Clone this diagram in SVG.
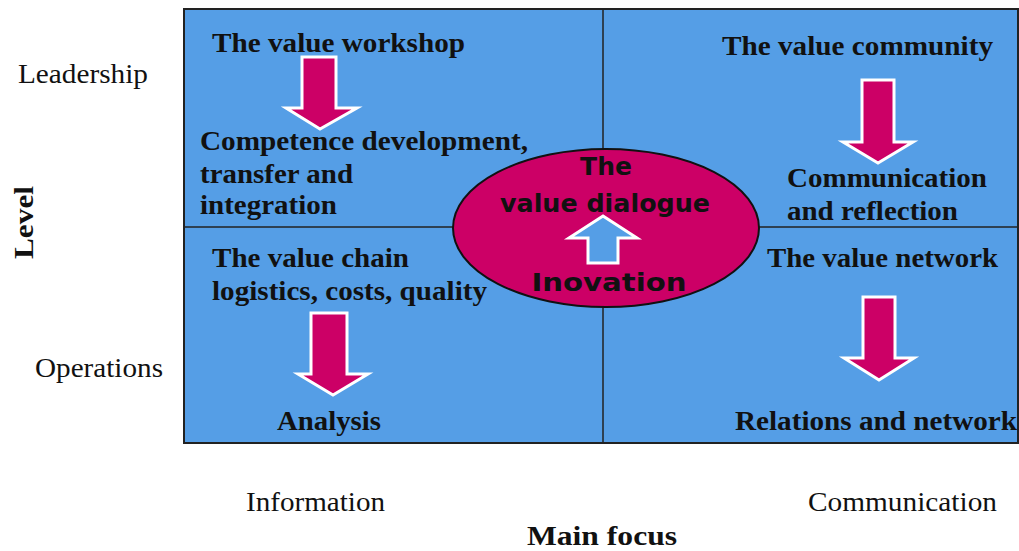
<svg xmlns="http://www.w3.org/2000/svg" width="1019" height="551" viewBox="0 0 1019 551">
<style>
.q{font-family:"Liberation Serif","Times New Roman",serif;font-weight:bold;font-size:27px;fill:#111}
.lab{font-family:"Liberation Serif","Times New Roman",serif;font-size:27px;fill:#111}
.labb{font-family:"Liberation Serif","Times New Roman",serif;font-weight:bold;font-size:28px;fill:#111}
.e{font-family:"DejaVu Sans","Verdana",sans-serif;font-weight:bold;font-size:25px;fill:#111;text-anchor:middle}
.down{fill:#cc0066;stroke:#ffffff;stroke-width:3;stroke-linejoin:miter}
.up{fill:#559ee6;stroke:#ffffff;stroke-width:3}
</style>
<rect width="1019" height="551" fill="#ffffff"/>
<g id="grid">
<rect x="184" y="9" width="834" height="434" fill="#559ee6" stroke="#222" stroke-width="2"/>
<line x1="603" y1="9" x2="603" y2="443" stroke="#222" stroke-width="1.5"/>
<line x1="184" y1="227" x2="1018" y2="227" stroke="#222" stroke-width="1.5"/>
</g>
<g id="axis-labels">
<text class="lab" x="18" y="83" textLength="130" lengthAdjust="spacingAndGlyphs">Leadership</text>
<text class="lab" x="35" y="377" textLength="128" lengthAdjust="spacingAndGlyphs">Operations</text>
<text class="labb" transform="translate(33,259) rotate(-90)" textLength="73" lengthAdjust="spacingAndGlyphs">Level</text>
<text class="lab" x="246" y="511" textLength="139" lengthAdjust="spacingAndGlyphs">Information</text>
<text class="lab" x="808" y="511" textLength="189" lengthAdjust="spacingAndGlyphs">Communication</text>
<text class="labb" x="527" y="545" textLength="150" lengthAdjust="spacingAndGlyphs">Main focus</text>
</g>
<g id="q-workshop">
<text class="q" x="212" y="52" textLength="253" lengthAdjust="spacingAndGlyphs">The value workshop</text>
<text class="q" x="200" y="150" textLength="328" lengthAdjust="spacingAndGlyphs">Competence development,</text>
<text class="q" x="200" y="183" textLength="153" lengthAdjust="spacingAndGlyphs">transfer and</text>
<text class="q" x="200" y="214" textLength="137" lengthAdjust="spacingAndGlyphs">integration</text>
</g>
<g id="q-community">
<text class="q" x="722" y="55" textLength="271" lengthAdjust="spacingAndGlyphs">The value community</text>
<text class="q" x="787" y="187" textLength="200" lengthAdjust="spacingAndGlyphs">Communication</text>
<text class="q" x="787" y="220" textLength="171" lengthAdjust="spacingAndGlyphs">and reflection</text>
</g>
<g id="q-chain">
<text class="q" x="212" y="267" textLength="197" lengthAdjust="spacingAndGlyphs">The value chain</text>
<text class="q" x="212" y="300" textLength="275" lengthAdjust="spacingAndGlyphs">logistics, costs, quality</text>
<text class="q" x="277" y="430" textLength="104" lengthAdjust="spacingAndGlyphs">Analysis</text>
</g>
<g id="q-network">
<text class="q" x="767" y="267" textLength="231" lengthAdjust="spacingAndGlyphs">The value network</text>
<text class="q" x="735" y="430" textLength="282" lengthAdjust="spacingAndGlyphs">Relations and network</text>
</g>
<g id="connectors">
<polygon class="down" points="302,57 336,57 336,108 357,108 320,129 286,108 302,108"/>
<polygon class="down" points="862,80 894,80 894,142 913,142 878,163 843,142 862,142"/>
<polygon class="down" points="311,313 347,313 347,374 368,374 333,395 298,374 311,374"/>
<polygon class="down" points="863,297 895,297 895,358 914,358 879,380 844,358 863,358"/>
</g>
<g id="dialogue">
<ellipse cx="606" cy="228" rx="153" ry="79" fill="#cc0066" stroke="#111" stroke-width="2"/>
<text class="e" x="606" y="175">The</text>
<text class="e" x="605" y="212" textLength="210" lengthAdjust="spacingAndGlyphs">value dialogue</text>
<polygon class="up" points="603,216 637,238 618,238 618,263 588,263 588,238 569,238"/>
<text class="e" x="609" y="291" textLength="155" lengthAdjust="spacingAndGlyphs">Inovation</text>
</g>
</svg>
